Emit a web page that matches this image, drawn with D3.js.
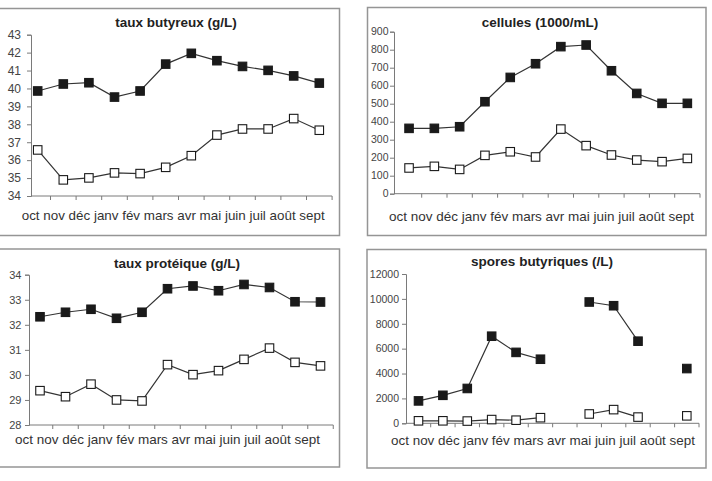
<!DOCTYPE html>
<html>
<head>
<meta charset="utf-8">
<script src="https://cdn.jsdelivr.net/npm/d3@7"></script>
<style>
  html, body { margin: 0; padding: 0; background: #fff; }
  svg { display: block; font-family: "Liberation Sans", Arial, sans-serif; }
</style>
</head>
<body>
<svg id="chart" width="712" height="481"></svg>
<script>
// ---- data ----
const months = ["oct", "nov", "déc", "janv", "fév", "mars", "avr", "mai", "juin", "juil", "août", "sept"];

const titles = ["taux butyreux (g/L)", "cellules (1000/mL)", "taux protéique (g/L)", "spores butyriques (/L)"];

const butyreuxFilled = [39.86, 40.25, 40.32, 39.52, 39.86, 41.36, 41.96, 41.55, 41.23, 41.01, 40.70, 40.30];
const butyreuxOpen   = [36.57, 34.90, 35.01, 35.29, 35.25, 35.60, 36.25, 37.40, 37.74, 37.74, 38.32, 37.67];

const cellulesFilled = [363, 363, 372, 511, 646, 722, 817, 826, 683, 557, 502, 502];
const cellulesOpen   = [143, 152, 135, 213, 233, 204, 359, 267, 215, 187, 178, 196];

const proteiqueFilled = [32.32, 32.50, 32.62, 32.26, 32.50, 33.44, 33.55, 33.36, 33.61, 33.49, 32.92, 32.91];
const proteiqueOpen   = [29.37, 29.13, 29.63, 29.00, 28.96, 30.41, 30.01, 30.17, 30.62, 31.07, 30.50, 30.36];

const sporesFilled = [1800, 2250, 2800, 7000, 5700, 5150, null, 9750, 9450, 6600, null, 4400];
const sporesOpen   = [200, 200, 180, 300, 250, 450, null, 750, 1100, 500, null, 600];

const butyreuxTicks  = [34, 35, 36, 37, 38, 39, 40, 41, 42, 43];
const cellulesTicks  = [0, 100, 200, 300, 400, 500, 600, 700, 800, 900];
const proteiqueTicks = [28, 29, 30, 31, 32, 33, 34];
const sporesTicks    = [0, 2000, 4000, 6000, 8000, 10000, 12000];

// ---- layout ----
const panels = [
  { title: titles[0], filled: butyreuxFilled, open: butyreuxOpen, ticks: butyreuxTicks,
    box: [-2, 8.5, 341.5, 227], axisX: 31, bandX: [24.9, 332.1], yTop: 34.7, yBot: 196,
    tickFont: 12, tickRight: 21, titleX: 176, titleY: 26.5, labX: 21.7, labY: 220, labW: 303 },
  { title: titles[1], filled: cellulesFilled, open: cellulesOpen, ticks: cellulesTicks,
    box: [367.5, 7.5, 338.5, 228], axisX: 394, bandX: [396.4, 700], yTop: 31.7, yBot: 193.7,
    tickFont: 10.5, tickRight: 388.5, titleX: 540, titleY: 26.5, labX: 389, labY: 220.5, labW: 305 },
  { title: titles[2], filled: proteiqueFilled, open: proteiqueOpen, ticks: proteiqueTicks,
    box: [-2, 249, 341.5, 218], axisX: 29, bandX: [27.25, 333.25], yTop: 274.7, yBot: 425,
    tickFont: 11, tickRight: 21.5, titleX: 177, titleY: 267.5, labX: 15, labY: 444, labW: 305 },
  { title: titles[3], filled: sporesFilled, open: sporesOpen, ticks: sporesTicks,
    box: [367, 249.5, 339, 218.5], axisX: 406, bandX: [406.3, 699], yTop: 274, yBot: 423.3,
    tickFont: 10.5, tickRight: 399, titleX: 542, titleY: 266, labX: 391, labY: 445, labW: 304 }
];

const svg = d3.select("#chart");

panels.forEach(p => {
  const g = svg.append("g");
  // frame
  g.append("rect")
    .attr("x", p.box[0]).attr("y", p.box[1])
    .attr("width", p.box[2]).attr("height", p.box[3])
    .attr("fill", "#fff").attr("stroke", "#959595").attr("stroke-width", 1.5);

  // title
  g.append("text")
    .attr("x", p.titleX).attr("y", p.titleY)
    .attr("text-anchor", "middle")
    .attr("font-size", 13.5).attr("font-weight", "bold").attr("fill", "#222")
    .text(p.title);

  const x = d3.scaleBand().domain(months).range(p.bandX);
  const y = d3.scaleLinear().domain([p.ticks[0], p.ticks[p.ticks.length - 1]]).range([p.yBot, p.yTop]);

  // y axis
  const ya = g.append("g").attr("transform", `translate(${p.axisX},0)`)
    .call(d3.axisLeft(y).tickValues(p.ticks).tickSize(4).tickPadding(3).tickFormat(d3.format("d")));
  ya.select(".domain").attr("stroke", "#7a7a7a").attr("stroke-width", 1);
  ya.selectAll(".tick line").attr("stroke", "#7a7a7a");
  ya.selectAll(".tick text").remove();
  g.append("g").selectAll("text").data(p.ticks).join("text")
    .attr("x", p.tickRight).attr("y", d => y(d))
    .attr("dy", "0.36em").attr("text-anchor", "end")
    .attr("font-size", p.tickFont).attr("fill", "#444")
    .text(d => d);

  // x axis line and ticks (at band boundaries)
  g.append("line")
    .attr("x1", p.axisX).attr("x2", p.bandX[1])
    .attr("y1", p.yBot).attr("y2", p.yBot)
    .attr("stroke", "#7a7a7a").attr("stroke-width", 1);
  g.append("g").selectAll("line").data(months).join("line")
    .attr("x1", d => x(d) + x.bandwidth()).attr("x2", d => x(d) + x.bandwidth())
    .attr("y1", p.yBot).attr("y2", p.yBot + 4)
    .attr("stroke", "#7a7a7a").attr("stroke-width", 1);

  // month labels laid out as one line
  g.append("text")
    .attr("x", p.labX).attr("y", p.labY)
    .attr("font-size", 13.5).attr("fill", "#333")
    .attr("textLength", p.labW).attr("lengthAdjust", "spacingAndGlyphs")
    .text(months.join(" "));

  const cx = d => x(d) + x.bandwidth() / 2;
  const line = d3.line()
    .defined(d => d[1] !== null)
    .x(d => cx(d[0])).y(d => y(d[1]));

  [["open", p.open], ["filled", p.filled]].forEach(([kind, vals]) => {
    const pts = months.map((m, i) => [m, vals[i]]);
    g.append("path").datum(pts)
      .attr("d", line).attr("fill", "none")
      .attr("stroke", "#333").attr("stroke-width", 1.2);
    const s = 8.5;
    g.append("g").selectAll("rect").data(pts.filter(d => d[1] !== null)).join("rect")
      .attr("x", d => cx(d[0]) - s / 2).attr("y", d => y(d[1]) - s / 2)
      .attr("width", s).attr("height", s)
      .attr("fill", kind === "filled" ? "#1a1a1a" : "#fff")
      .attr("stroke", "#1a1a1a").attr("stroke-width", 1.1);
  });
});
</script>
</body>
</html>
